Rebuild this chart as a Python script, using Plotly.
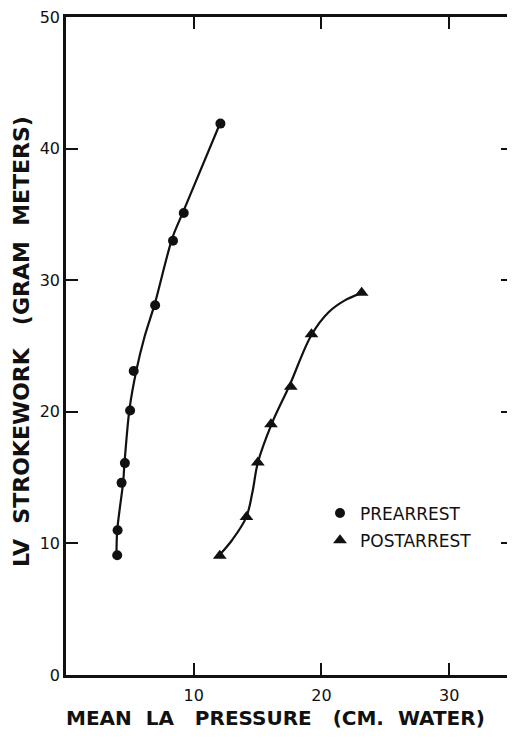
import plotly.graph_objects as go

# Data points
pre_x = [4.01, 4.04, 4.35, 4.61, 5.02, 5.3, 6.98, 8.38, 9.22, 12.09]
pre_y = [9.1, 11.0, 14.6, 16.1, 20.1, 23.1, 28.1, 33.0, 35.1, 41.9]

post_x = [12.04, 14.13, 15.02, 16.05, 17.6, 19.22, 23.15]
post_y = [9.07, 12.0, 16.15, 19.05, 21.9, 25.9, 29.05]

# Hand-drawn fitted curves
pre_curve_x = [3.95, 4.01, 4.48, 4.58, 4.97, 5.52, 6.15, 6.95, 8.32, 9.22, 12.1]
pre_curve_y = [9.1, 11.0, 14.7, 16.1, 20.2, 23.2, 25.7, 28.2, 33.2, 35.3, 42.0]

post_curve_x = [12.02, 13.01, 14.11, 14.6, 15.02, 16.09, 17.5, 19.22, 20.6, 21.8, 23.06]
post_curve_y = [9.12, 10.26, 11.98, 13.9, 16.13, 19.05, 22.0, 25.84, 27.6, 28.45, 29.0]

x_ticks = [10, 20, 30]
y_ticks = [0, 10, 20, 30, 40, 50]

FONT = "DejaVu Sans"
BLACK = "#111111"
NB = "\u00a0"

fig = go.Figure()

fig.add_trace(go.Scatter(
    x=pre_curve_x, y=pre_curve_y, mode="lines",
    line=dict(color=BLACK, width=2.2, shape="spline", smoothing=0.8),
    showlegend=False, hoverinfo="skip"))
fig.add_trace(go.Scatter(
    x=post_curve_x, y=post_curve_y, mode="lines",
    line=dict(color=BLACK, width=2.2, shape="spline", smoothing=1.0),
    showlegend=False, hoverinfo="skip"))

fig.add_trace(go.Scatter(
    x=pre_x, y=pre_y, mode="markers", name="PREARREST",
    legendgroup="a",
    marker=dict(symbol="circle", size=10, color=BLACK)))
fig.add_trace(go.Scatter(
    x=post_x, y=post_y, mode="markers", name="POSTARREST",
    legendgroup="b",
    marker=dict(symbol="triangle-up", size=12, color=BLACK)))

axis_common = dict(
    showline=True, linecolor=BLACK, linewidth=2.5, mirror="ticks",
    ticks="inside", ticklen=12, tickwidth=2, tickcolor=BLACK,
    showgrid=False, zeroline=False, automargin=False,
    ticklabeloverflow="allow",
    tickfont=dict(family=FONT, size=16, color=BLACK),
)

# page body has an 8px margin; figure sized to fit the 515x740 window
OFF = 8
W, H = 507, 724
L, T = 66 - OFF, 17 - OFF
R = W - (513 - OFF)
B = H - (675 - OFF)
PW, PH = W - L - R, H - T - B


def px_x(wx):
    return (wx - OFF - L) / PW


def px_y(wy):
    return ((H - B) - (wy - OFF)) / PH


fig.update_layout(
    width=W, height=H,
    margin=dict(l=L, r=R, t=T, b=B, autoexpand=False),
    paper_bgcolor="white", plot_bgcolor="white",
    font=dict(family=FONT, color=BLACK),
    xaxis=dict(range=[0, 35], tickvals=x_ticks, ticktext=[str(v) for v in x_ticks],
               ticklabelstandoff=4, **axis_common),
    yaxis=dict(range=[0, 50], tickvals=y_ticks, ticktext=[str(v) for v in y_ticks],
               ticklabelstandoff=0, **axis_common),
    legend=dict(x=px_x(320), y=px_y(527), xanchor="left", yanchor="middle",
                bgcolor="rgba(0,0,0,0)", tracegroupgap=2,
                font=dict(family=FONT, size=17, color=BLACK)),
    annotations=[
        dict(text="<b>MEAN" + NB * 2 + "LA" + NB * 3 + "PRESSURE" + NB * 3 + "(CM." + NB * 2 + "WATER)</b>",
             xref="paper", yref="paper", x=px_x(275), y=px_y(718),
             xanchor="center", yanchor="middle", showarrow=False,
             font=dict(family=FONT, size=20, color=BLACK)),
        dict(text="<b>LV" + NB * 2 + "STROKEWORK" + NB * 3 + "(GRAM" + NB * 2 + "METERS)</b>",
             xref="paper", yref="paper", x=px_x(21), y=px_y(342),
             xanchor="center", yanchor="middle", showarrow=False, textangle=-90,
             font=dict(family=FONT, size=22, color=BLACK)),
    ],
)

fig.write_html("out.html")
